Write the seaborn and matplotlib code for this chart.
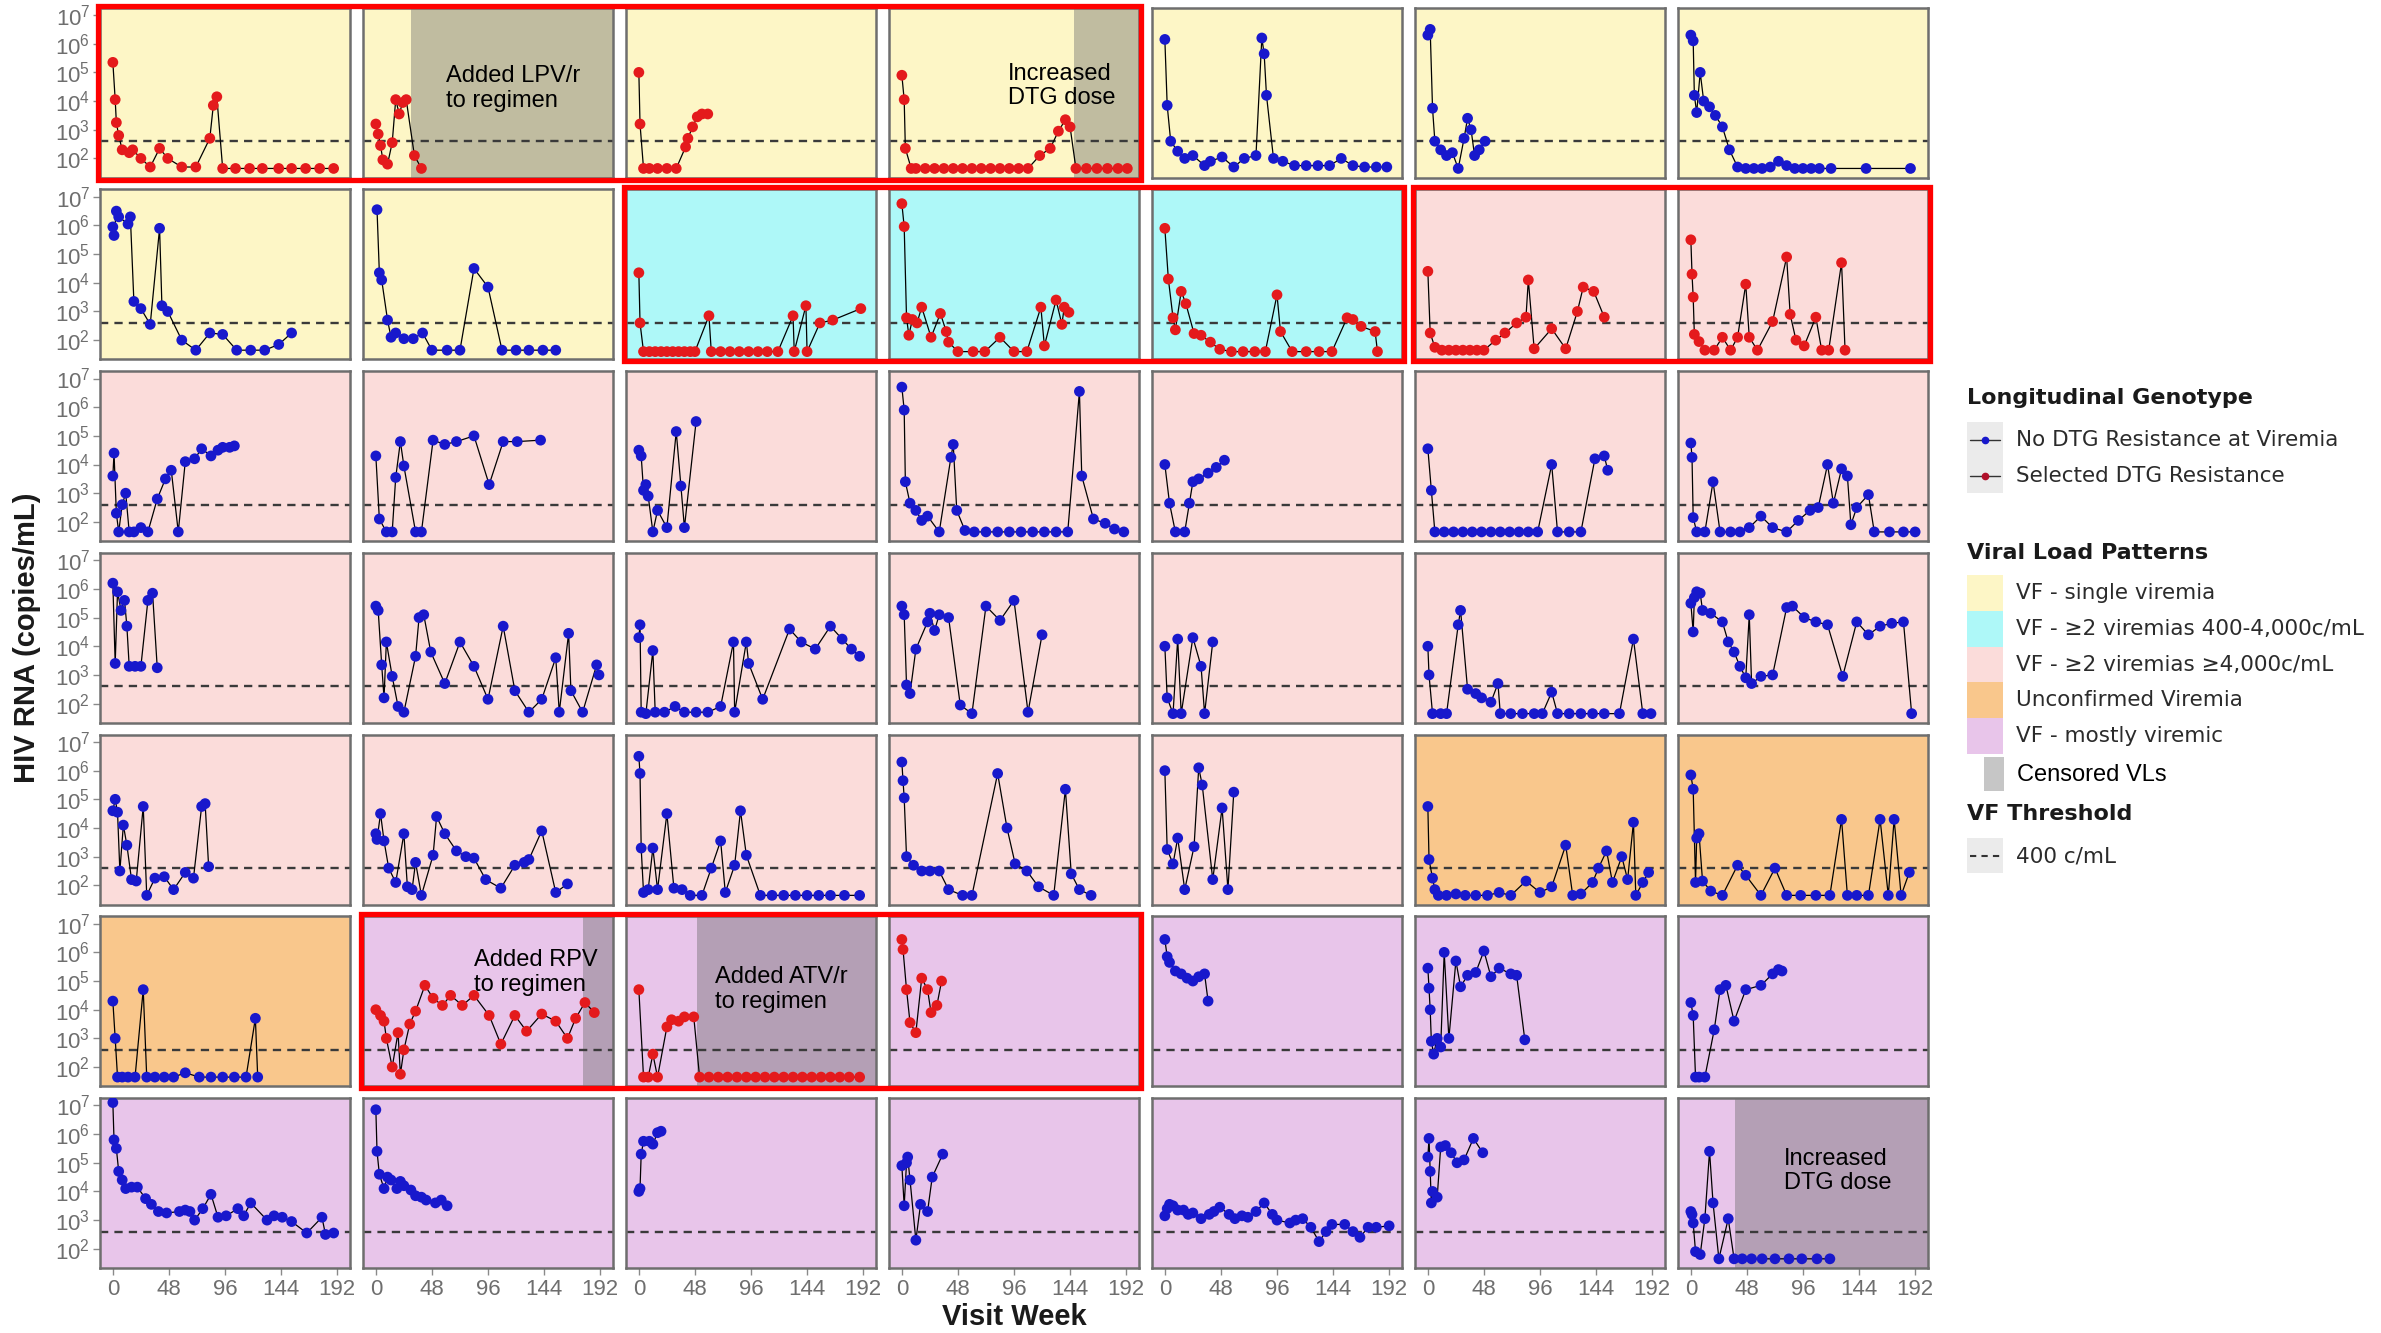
import matplotlib
matplotlib.use("Agg")
import matplotlib.pyplot as plt
import seaborn as sns
import pandas as pd
from matplotlib.patches import Rectangle
from matplotlib.lines import Line2D

# ---------------- data: visit week and log10 HIV RNA (copies/mL) ----------------
r1c1_wk = [0, 2, 3, 5, 8, 14, 17, 24, 32, 40, 47, 59, 71, 83, 86, 89, 94, 105, 117, 128, 142, 153, 165, 177, 189]
r1c1_lg = [5.35, 4.05, 3.25, 2.8, 2.3, 2.2, 2.3, 2.0, 1.7, 2.35, 2.0, 1.7, 1.7, 2.7, 3.85, 4.15, 1.65, 1.65, 1.65, 1.65, 1.65, 1.65, 1.65, 1.65, 1.65]
r1c2_wk = [0, 2, 4, 6, 10, 14, 17, 20, 23, 26, 33, 39]
r1c2_lg = [3.2, 2.85, 2.45, 1.95, 1.8, 2.55, 4.05, 3.55, 3.95, 4.05, 2.1, 1.65]
r1c3_wk = [0, 1, 4, 9, 16, 24, 32, 40, 42, 46, 50, 54, 59]
r1c3_lg = [5.0, 3.2, 1.65, 1.65, 1.65, 1.65, 1.65, 2.4, 2.7, 3.1, 3.45, 3.55, 3.55]
r1c4_wk = [0, 2, 3, 8, 12, 20, 28, 36, 44, 52, 60, 68, 76, 84, 92, 100, 108, 118, 127, 134, 140, 144, 149, 158, 167, 176, 185, 193]
r1c4_lg = [4.9, 4.05, 2.35, 1.65, 1.65, 1.65, 1.65, 1.65, 1.65, 1.65, 1.65, 1.65, 1.65, 1.65, 1.65, 1.65, 1.65, 2.1, 2.35, 2.95, 3.35, 3.1, 1.65, 1.65, 1.65, 1.65, 1.65, 1.65]
r1c5_wk = [0, 2, 5, 11, 17, 24, 34, 39, 49, 59, 68, 78, 83, 85, 87, 93, 101, 111, 121, 131, 141, 151, 161, 171, 181, 190]
r1c5_lg = [6.15, 3.85, 2.6, 2.25, 2.0, 2.1, 1.75, 1.9, 2.05, 1.7, 2.0, 2.1, 6.2, 5.65, 4.2, 2.0, 1.9, 1.75, 1.75, 1.75, 1.75, 2.0, 1.75, 1.7, 1.7, 1.7]
r1c6_wk = [0, 2, 4, 6, 11, 16, 21, 26, 31, 34, 37, 40, 44, 49]
r1c6_lg = [6.3, 6.5, 3.75, 2.6, 2.3, 2.1, 2.2, 1.65, 2.7, 3.4, 3.0, 2.1, 2.3, 2.6]
r1c7_wk = [0, 2, 3, 5, 8, 11, 16, 21, 27, 33, 40, 47, 54, 61, 68, 75, 82, 89, 96, 103, 110, 120, 150, 188]
r1c7_lg = [6.3, 6.1, 4.2, 3.6, 5.0, 4.0, 3.8, 3.5, 3.1, 2.3, 1.7, 1.65, 1.65, 1.65, 1.7, 1.9, 1.75, 1.65, 1.65, 1.65, 1.65, 1.65, 1.65, 1.65]

r2c1_wk = [0, 1, 3, 5, 13, 15, 18, 24, 32, 40, 42, 47, 59, 71, 83, 94, 106, 118, 130, 142, 153]
r2c1_lg = [5.95, 5.65, 6.5, 6.3, 6.05, 6.3, 3.35, 3.1, 2.55, 5.9, 3.2, 3.0, 2.0, 1.65, 2.25, 2.2, 1.65, 1.65, 1.65, 1.85, 2.25]
r2c2_wk = [1, 3, 5, 10, 13, 17, 24, 32, 40, 48, 61, 72, 84, 96, 108, 120, 131, 143, 154]
r2c2_lg = [6.55, 4.35, 4.1, 2.7, 2.1, 2.25, 2.05, 2.05, 2.25, 1.65, 1.65, 1.65, 4.5, 3.85, 1.65, 1.65, 1.65, 1.65, 1.65]
r2c3_wk = [0, 1, 4, 9, 14, 19, 24, 29, 34, 39, 44, 48, 60, 62, 70, 78, 86, 94, 102, 110, 119, 132, 133, 143, 144, 155, 166, 190]
r2c3_lg = [4.35, 2.6, 1.6, 1.6, 1.6, 1.6, 1.6, 1.6, 1.6, 1.6, 1.6, 1.6, 2.85, 1.6, 1.6, 1.6, 1.6, 1.6, 1.6, 1.6, 1.6, 2.85, 1.6, 3.2, 1.6, 2.6, 2.7, 3.1]
r2c4_wk = [0, 2, 4, 6, 9, 13, 17, 25, 33, 38, 40, 48, 61, 71, 84, 96, 107, 119, 122, 132, 137, 139, 143]
r2c4_lg = [6.76, 5.96, 2.78, 2.17, 2.72, 2.6, 3.15, 2.1, 2.93, 2.3, 1.93, 1.6, 1.6, 1.6, 2.1, 1.6, 1.6, 3.15, 1.8, 3.4, 2.55, 3.15, 2.97]
r2c5_wk = [0, 3, 7, 9, 14, 18, 25, 31, 39, 47, 57, 67, 77, 86, 96, 99, 109, 121, 132, 143, 156, 161, 168, 180, 182]
r2c5_lg = [5.9, 4.13, 2.78, 2.36, 3.7, 3.27, 2.23, 2.17, 1.93, 1.68, 1.6, 1.6, 1.6, 1.6, 3.58, 2.3, 1.6, 1.6, 1.6, 1.6, 2.78, 2.72, 2.48, 2.3, 1.6]
r2c6_wk = [0, 2, 6, 12, 18, 24, 30, 36, 42, 48, 58, 66, 76, 84, 86, 91, 106, 118, 128, 133, 142, 151]
r2c6_lg = [4.4, 2.25, 1.75, 1.65, 1.65, 1.65, 1.65, 1.65, 1.65, 1.65, 2.0, 2.25, 2.6, 2.8, 4.1, 1.7, 2.4, 1.7, 3.0, 3.85, 3.7, 2.8]
r2c7_wk = [0, 1, 2, 3, 7, 12, 20, 27, 34, 40, 47, 50, 57, 70, 82, 85, 90, 97, 107, 112, 118, 129, 132]
r2c7_lg = [5.5, 4.3, 3.5, 2.2, 1.95, 1.65, 1.65, 2.1, 1.65, 2.1, 3.95, 2.1, 1.65, 2.65, 4.9, 2.9, 2.0, 1.8, 2.8, 1.65, 1.65, 4.7, 1.65]

r3c1_wk = [0, 1, 3, 5, 8, 11, 14, 18, 24, 30, 38, 45, 50, 56, 62, 70, 76, 84, 90, 94, 100, 104]
r3c1_lg = [3.6, 4.4, 2.3, 1.65, 2.6, 3.0, 1.65, 1.65, 1.8, 1.65, 2.8, 3.5, 3.8, 1.65, 4.1, 4.2, 4.55, 4.3, 4.5, 4.6, 4.6, 4.65]
r3c2_wk = [0, 3, 9, 14, 17, 21, 24, 34, 39, 49, 59, 69, 84, 97, 109, 121, 141]
r3c2_lg = [4.3, 2.1, 1.65, 1.65, 3.55, 4.8, 3.95, 1.65, 1.65, 4.85, 4.7, 4.8, 5.0, 3.3, 4.8, 4.8, 4.85]
r3c3_wk = [0, 2, 4, 6, 8, 12, 16, 24, 32, 36, 39, 49]
r3c3_lg = [4.5, 4.3, 3.1, 3.3, 2.9, 1.65, 2.4, 1.8, 5.15, 3.25, 1.8, 5.5]
r3c4_wk = [0, 2, 3, 7, 12, 17, 22, 32, 42, 44, 47, 54, 62, 72, 82, 92, 102, 112, 122, 132, 142, 152, 154, 164, 174, 182, 190]
r3c4_lg = [6.7, 5.9, 3.4, 2.65, 2.4, 2.05, 2.2, 1.65, 4.25, 4.7, 2.4, 1.7, 1.65, 1.65, 1.65, 1.65, 1.65, 1.65, 1.65, 1.65, 1.65, 6.55, 3.6, 2.1, 1.95, 1.75, 1.65]
r3c5_wk = [0, 4, 9, 17, 21, 24, 29, 37, 44, 51]
r3c5_lg = [4.0, 2.65, 1.65, 1.65, 2.65, 3.4, 3.5, 3.7, 3.9, 4.15]
r3c6_wk = [0, 3, 6, 14, 22, 30, 38, 46, 54, 62, 70, 78, 86, 94, 106, 111, 121, 131, 143, 151, 154]
r3c6_lg = [4.55, 3.1, 1.65, 1.65, 1.65, 1.65, 1.65, 1.65, 1.65, 1.65, 1.65, 1.65, 1.65, 1.65, 4.0, 1.65, 1.65, 1.65, 4.2, 4.3, 3.8]
r3c7_wk = [0, 1, 2, 5, 12, 19, 25, 34, 42, 50, 60, 70, 82, 92, 102, 109, 117, 122, 129, 134, 137, 142, 152, 157, 170, 182, 192]
r3c7_lg = [4.75, 4.25, 2.15, 1.65, 1.65, 3.4, 1.65, 1.65, 1.65, 1.8, 2.2, 1.8, 1.65, 2.05, 2.4, 2.5, 4.0, 2.65, 3.85, 3.6, 1.9, 2.5, 2.95, 1.65, 1.65, 1.65, 1.65]

r4c1_wk = [0, 2, 4, 7, 10, 12, 14, 19, 24, 30, 34, 38]
r4c1_lg = [6.2, 3.4, 5.9, 5.25, 5.6, 4.7, 3.3, 3.3, 3.3, 5.6, 5.85, 3.25]
r4c2_wk = [0, 2, 5, 7, 9, 14, 19, 24, 34, 37, 41, 47, 59, 72, 84, 96, 109, 119, 131, 142, 154, 157, 165, 167, 177, 189, 191]
r4c2_lg = [5.4, 5.25, 3.35, 2.2, 4.15, 2.95, 1.9, 1.7, 3.65, 5.0, 5.1, 3.8, 2.7, 4.15, 3.3, 2.15, 4.7, 2.45, 1.7, 2.15, 3.6, 1.7, 4.45, 2.45, 1.7, 3.35, 3.0]
r4c3_wk = [0, 1, 2, 6, 12, 14, 22, 31, 39, 49, 59, 70, 81, 82, 92, 94, 106, 129, 139, 151, 164, 174, 182, 189]
r4c3_lg = [4.3, 4.75, 1.7, 1.65, 3.85, 1.7, 1.7, 1.9, 1.7, 1.7, 1.7, 1.9, 4.15, 1.7, 4.15, 3.4, 2.15, 4.6, 4.15, 3.9, 4.7, 4.25, 3.9, 3.65]
r4c4_wk = [0, 2, 4, 7, 12, 22, 24, 28, 32, 40, 50, 60, 72, 84, 96, 108, 120]
r4c4_lg = [5.4, 5.1, 2.65, 2.35, 3.9, 4.85, 5.15, 4.55, 5.1, 5.0, 1.95, 1.65, 5.4, 4.9, 5.6, 1.7, 4.4]
r4c5_wk = [0, 2, 7, 11, 14, 24, 31, 34, 41]
r4c5_lg = [4.0, 2.2, 1.65, 4.25, 1.65, 4.3, 3.3, 1.65, 4.15]
r4c6_wk = [0, 1, 4, 11, 16, 26, 28, 34, 41, 46, 54, 60, 62, 71, 81, 91, 98, 106, 111, 121, 131, 141, 151, 164, 176, 184, 191]
r4c6_lg = [4.0, 3.0, 1.65, 1.65, 1.65, 4.75, 5.25, 2.5, 2.35, 2.2, 2.05, 2.7, 1.65, 1.65, 1.65, 1.65, 1.65, 2.4, 1.65, 1.65, 1.65, 1.65, 1.65, 1.65, 4.25, 1.65, 1.65]
r4c7_wk = [0, 2, 3, 5, 8, 10, 17, 27, 32, 37, 42, 47, 50, 52, 60, 70, 82, 87, 97, 107, 117, 130, 142, 152, 162, 172, 182, 189]
r4c7_lg = [5.5, 4.5, 5.7, 5.9, 5.85, 5.25, 5.15, 4.85, 4.15, 3.8, 3.3, 2.9, 5.1, 2.7, 2.95, 3.0, 5.35, 5.4, 5.0, 4.85, 4.75, 2.95, 4.85, 4.4, 4.7, 4.8, 4.85, 1.65]

r5c1_wk = [0, 2, 4, 6, 9, 12, 16, 20, 26, 29, 36, 44, 52, 62, 69, 76, 79, 82]
r5c1_lg = [4.6, 5.0, 4.55, 2.5, 4.1, 3.4, 2.2, 2.15, 4.75, 1.65, 2.25, 2.3, 1.85, 2.45, 2.25, 4.75, 4.85, 2.65]
r5c2_wk = [0, 1, 4, 7, 11, 17, 24, 27, 31, 34, 39, 49, 52, 59, 69, 77, 84, 94, 107, 119, 127, 131, 142, 154, 164]
r5c2_lg = [3.8, 3.6, 4.5, 3.55, 2.6, 2.1, 3.8, 1.95, 1.85, 2.8, 1.65, 3.05, 4.4, 3.8, 3.2, 3.0, 2.95, 2.2, 1.9, 2.7, 2.8, 2.9, 3.9, 1.75, 2.05]
r5c3_wk = [0, 1, 2, 4, 8, 12, 16, 24, 30, 37, 44, 54, 62, 70, 74, 82, 87, 92, 104, 114, 124, 134, 144, 154, 164, 176, 189]
r5c3_lg = [6.5, 5.9, 3.3, 1.75, 1.85, 3.3, 1.85, 4.5, 1.9, 1.85, 1.65, 1.65, 2.6, 3.55, 1.75, 2.7, 4.6, 3.05, 1.65, 1.65, 1.65, 1.65, 1.65, 1.65, 1.65, 1.65, 1.65]
r5c4_wk = [0, 1, 2, 4, 10, 17, 24, 32, 40, 52, 60, 82, 90, 97, 107, 117, 130, 140, 145, 152, 162]
r5c4_lg = [6.3, 5.65, 5.05, 3.0, 2.7, 2.5, 2.5, 2.5, 1.85, 1.65, 1.65, 5.9, 4.0, 2.75, 2.5, 1.95, 1.65, 5.35, 2.4, 1.85, 1.65]
r5c5_wk = [0, 2, 7, 11, 17, 25, 29, 32, 41, 49, 54, 59]
r5c5_lg = [6.0, 3.25, 2.75, 3.65, 1.85, 3.35, 6.1, 5.5, 2.2, 4.7, 1.85, 5.25]
r5c6_wk = [0, 1, 4, 6, 9, 16, 24, 32, 41, 51, 61, 71, 84, 96, 106, 118, 124, 131, 141, 146, 153, 158, 166, 171, 176, 178, 184, 189]
r5c6_lg = [4.75, 2.9, 2.25, 1.85, 1.65, 1.65, 1.7, 1.65, 1.65, 1.65, 1.75, 1.65, 2.15, 1.75, 1.95, 3.4, 1.65, 1.7, 2.1, 2.6, 3.2, 2.1, 3.0, 2.2, 4.2, 1.65, 2.1, 2.45]
r5c7_wk = [0, 2, 4, 5, 7, 10, 17, 27, 40, 47, 60, 72, 82, 94, 107, 119, 129, 134, 142, 152, 162, 169, 174, 180, 187]
r5c7_lg = [5.85, 5.35, 2.1, 3.65, 3.8, 2.15, 1.8, 1.65, 2.7, 2.35, 1.65, 2.6, 1.65, 1.65, 1.65, 1.65, 4.3, 1.65, 1.65, 1.65, 4.3, 1.65, 4.3, 1.65, 2.45]

r6c1_wk = [0, 2, 4, 8, 13, 19, 26, 29, 36, 44, 52, 62, 74, 84, 94, 104, 114, 122, 124]
r6c1_lg = [4.3, 3.0, 1.65, 1.65, 1.65, 1.65, 4.7, 1.65, 1.65, 1.65, 1.65, 1.8, 1.65, 1.65, 1.65, 1.65, 1.65, 3.7, 1.65]
r6c2_wk = [0, 4, 7, 9, 14, 19, 21, 24, 29, 34, 42, 49, 57, 64, 74, 84, 97, 107, 119, 129, 142, 154, 164, 171, 179, 187]
r6c2_lg = [4.0, 3.8, 3.6, 3.0, 2.0, 3.2, 1.75, 2.6, 3.5, 3.95, 4.85, 4.4, 4.15, 4.5, 4.15, 4.5, 3.8, 2.8, 3.8, 3.25, 3.85, 3.6, 3.0, 3.7, 4.25, 3.9]
r6c3_wk = [0, 4, 8, 12, 16, 24, 28, 34, 39, 47, 52, 60, 68, 76, 84, 92, 100, 108, 116, 124, 132, 140, 148, 156, 164, 172, 180, 189]
r6c3_lg = [4.7, 1.65, 1.65, 2.45, 1.65, 3.4, 3.65, 3.6, 3.75, 3.75, 1.65, 1.65, 1.65, 1.65, 1.65, 1.65, 1.65, 1.65, 1.65, 1.65, 1.65, 1.65, 1.65, 1.65, 1.65, 1.65, 1.65, 1.65]
r6c4_wk = [0, 1, 4, 7, 12, 17, 22, 25, 30, 34]
r6c4_lg = [6.45, 6.1, 4.7, 3.55, 3.2, 5.1, 4.7, 3.9, 4.15, 5.0]
r6c5_wk = [0, 2, 4, 9, 14, 19, 24, 29, 34, 37]
r6c5_lg = [6.45, 5.85, 5.65, 5.35, 5.25, 5.1, 5.0, 5.15, 5.25, 4.3]
r6c6_wk = [0, 1, 2, 3, 5, 8, 11, 14, 18, 24, 28, 34, 41, 48, 54, 61, 71, 76, 83]
r6c6_lg = [5.45, 4.75, 4.0, 2.9, 2.45, 3.0, 2.7, 6.0, 3.0, 5.7, 4.8, 5.2, 5.3, 6.05, 5.15, 5.45, 5.25, 5.2, 2.95]
r6c7_wk = [0, 2, 4, 7, 12, 20, 25, 30, 37, 47, 60, 70, 75, 78]
r6c7_lg = [4.25, 3.8, 1.65, 1.65, 1.65, 3.3, 4.7, 4.85, 3.6, 4.7, 4.85, 5.25, 5.4, 5.35]

r7c1_wk = [0, 1, 3, 5, 8, 11, 16, 21, 28, 33, 39, 46, 57, 62, 66, 70, 77, 84, 90, 97, 107, 112, 118, 132, 138, 145, 153, 166, 179, 182, 189]
r7c1_lg = [7.1, 5.8, 5.5, 4.7, 4.4, 4.1, 4.15, 4.15, 3.75, 3.55, 3.3, 3.25, 3.3, 3.35, 3.3, 3.0, 3.4, 3.9, 3.1, 3.15, 3.4, 3.15, 3.6, 3.0, 3.15, 3.1, 2.95, 2.55, 3.1, 2.5, 2.55]
r7c2_wk = [0, 1, 3, 7, 10, 13, 18, 21, 24, 30, 34, 39, 43, 51, 56, 61]
r7c2_lg = [6.85, 5.4, 4.6, 4.1, 4.5, 4.4, 4.1, 4.35, 4.2, 4.05, 3.85, 3.8, 3.7, 3.6, 3.7, 3.5]
r7c3_wk = [0, 1, 2, 4, 9, 12, 16, 19]
r7c3_lg = [4.0, 4.1, 5.3, 5.75, 5.75, 5.65, 6.05, 6.1]
r7c4_wk = [0, 2, 4, 5, 7, 12, 16, 22, 26, 35]
r7c4_lg = [4.9, 3.5, 5.0, 5.2, 4.4, 2.3, 3.55, 3.3, 4.5, 5.3]
r7c5_wk = [0, 2, 4, 7, 11, 16, 20, 24, 31, 38, 42, 47, 55, 60, 66, 71, 78, 85, 92, 96, 107, 112, 118, 125, 132, 138, 143, 154, 161, 167, 174, 181, 192]
r7c5_lg = [3.15, 3.4, 3.55, 3.5, 3.35, 3.35, 3.2, 3.25, 3.05, 3.2, 3.3, 3.45, 3.2, 3.05, 3.15, 3.1, 3.3, 3.6, 3.2, 3.0, 2.9, 3.0, 3.05, 2.75, 2.25, 2.6, 2.85, 2.85, 2.6, 2.4, 2.75, 2.75, 2.8]
r7c6_wk = [0, 1, 2, 3, 4, 8, 11, 15, 20, 25, 31, 39, 47]
r7c6_lg = [5.2, 5.85, 4.7, 3.6, 4.0, 3.8, 5.55, 5.6, 5.35, 5.0, 5.1, 5.85, 5.35]
r7c7_wk = [0, 1, 2, 4, 8, 12, 16, 19, 24, 32, 37, 44, 52, 61, 72, 84, 95, 108, 119]
r7c7_lg = [3.3, 3.2, 2.9, 1.9, 1.8, 3.05, 5.4, 3.6, 1.65, 3.05, 1.65, 1.65, 1.65, 1.65, 1.65, 1.65, 1.65, 1.65, 1.65]

WK = [[r1c1_wk, r1c2_wk, r1c3_wk, r1c4_wk, r1c5_wk, r1c6_wk, r1c7_wk],
      [r2c1_wk, r2c2_wk, r2c3_wk, r2c4_wk, r2c5_wk, r2c6_wk, r2c7_wk],
      [r3c1_wk, r3c2_wk, r3c3_wk, r3c4_wk, r3c5_wk, r3c6_wk, r3c7_wk],
      [r4c1_wk, r4c2_wk, r4c3_wk, r4c4_wk, r4c5_wk, r4c6_wk, r4c7_wk],
      [r5c1_wk, r5c2_wk, r5c3_wk, r5c4_wk, r5c5_wk, r5c6_wk, r5c7_wk],
      [r6c1_wk, r6c2_wk, r6c3_wk, r6c4_wk, r6c5_wk, r6c6_wk, r6c7_wk],
      [r7c1_wk, r7c2_wk, r7c3_wk, r7c4_wk, r7c5_wk, r7c6_wk, r7c7_wk]]
LG = [[r1c1_lg, r1c2_lg, r1c3_lg, r1c4_lg, r1c5_lg, r1c6_lg, r1c7_lg],
      [r2c1_lg, r2c2_lg, r2c3_lg, r2c4_lg, r2c5_lg, r2c6_lg, r2c7_lg],
      [r3c1_lg, r3c2_lg, r3c3_lg, r3c4_lg, r3c5_lg, r3c6_lg, r3c7_lg],
      [r4c1_lg, r4c2_lg, r4c3_lg, r4c4_lg, r4c5_lg, r4c6_lg, r4c7_lg],
      [r5c1_lg, r5c2_lg, r5c3_lg, r5c4_lg, r5c5_lg, r5c6_lg, r5c7_lg],
      [r6c1_lg, r6c2_lg, r6c3_lg, r6c4_lg, r6c5_lg, r6c6_lg, r6c7_lg],
      [r7c1_lg, r7c2_lg, r7c3_lg, r7c4_lg, r7c5_lg, r7c6_lg, r7c7_lg]]

# viral load pattern of each panel (Y single, C 400-4000, P >=4000, O unconfirmed, M mostly viremic)
pattern_rows = ["YYYYYYY", "YYCCCPP", "PPPPPPP", "PPPPPPP", "PPPPPOO", "OMMMMMM", "MMMMMMM"]
# panels with selected DTG resistance (1 = red)
resist_rows = ["1111000", "0011111", "0000000", "0000000", "0000000", "0111000", "0000000"]

pattern_names = ["VF - single viremia", "VF - \u22652 viremias 400-4,000c/mL",
                 "VF - \u22652 viremias \u22654,000c/mL", "Unconfirmed Viremia", "VF - mostly viremic"]
pattern_keys = ["Y", "C", "P", "O", "M"]
pattern_colors = ["#FDF6C6", "#AEF8F8", "#FBDCDA", "#F9C78C", "#E8C5EA"]

censor_panels = [(0, 1), (0, 3), (5, 1), (5, 2), (6, 6)]
censor_start = [30, 147, 177, 50, 38]
annot_panels = [(0, 1), (0, 3), (5, 1), (5, 2), (6, 6)]
annot_text = ["Added LPV/r\nto regimen", "Increased\nDTG dose", "Added RPV\nto regimen",
              "Added ATV/r\nto regimen", "Increased\nDTG dose"]
annot_x = [0.60, 0.69, 0.69, 0.62, 0.64]
annot_y = [0.525, 0.54, 0.67, 0.57, 0.57]

box_row = [0, 1, 1, 5]
box_c0 = [0, 2, 5, 1]
box_c1 = [3, 4, 6, 3]

x_ticks = [0, 48, 96, 144, 192]
y_ticks = [2, 3, 4, 5, 6, 7]
threshold_log = 2.602  # 400 c/mL

# ---------------- styling ----------------
sns.set_theme(style="white")
plt.rcParams['font.family'] = ['Liberation Sans', 'DejaVu Sans']
plt.rcParams['mathtext.fontset'] = 'custom'
plt.rcParams['mathtext.rm'] = 'Liberation Sans'
plt.rcParams['mathtext.it'] = 'Liberation Sans:italic'
plt.rcParams['mathtext.bf'] = 'Liberation Sans:bold'

BLUE = "#1818CC"
RED = "#E41A1C"
W, H = 2381, 1333

fig = plt.figure(figsize=(W / 100, H / 100), dpi=100)
fig.patch.set_facecolor("white")
gs = fig.add_gridspec(7, 7, left=100 / W, right=1928 / W, top=1 - 7.6 / H, bottom=1 - 1268 / H,
                      wspace=13 / 250, hspace=11.7 / 170)

axes = [[None] * 7 for _ in range(7)]
for i in range(7):
    for j in range(7):
        ax = fig.add_subplot(gs[i, j])
        axes[i][j] = ax
        key = pattern_rows[i][j]
        ax.set_facecolor(pattern_colors[pattern_keys.index(key)])
        df = pd.DataFrame({"week": WK[i][j], "lg": LG[i][j]})
        col = RED if resist_rows[i][j] == "1" else BLUE
        sns.lineplot(data=df, x="week", y="lg", ax=ax, color="black", linewidth=0.9,
                     estimator=None, sort=False, zorder=3)
        sns.scatterplot(data=df, x="week", y="lg", ax=ax, color=col, s=60,
                        edgecolor="none", linewidth=0, zorder=4)
        ax.axhline(threshold_log, color="#3A3A3A", lw=1.7, dashes=(3.5, 2.6), zorder=2)
        ax.set_xlim(-11, 203)
        ax.set_ylim(1.33, 7.26)
        ax.set_xlabel("")
        ax.set_ylabel("")
        ax.set_xticks(x_ticks)
        ax.set_yticks(y_ticks)
        for s in ax.spines.values():
            s.set_color("#6E6E6E")
            s.set_linewidth(1.8)
        if j == 0:
            ax.set_yticklabels([r"$10^{%d}$" % k for k in y_ticks])
            ax.tick_params(axis="y", length=5, width=1.0, color="#8A8A8A",
                           labelcolor="#6E6E6E", labelsize=16, pad=2, left=True)
        else:
            ax.set_yticklabels([])
            ax.tick_params(axis="y", length=0, left=False)
        if i == 6:
            ax.set_xticklabels([str(t) for t in x_ticks])
            ax.tick_params(axis="x", length=5, width=1.0, color="#8A8A8A",
                           labelcolor="#6E6E6E", labelsize=16, pad=3, bottom=True)
        else:
            ax.set_xticklabels([])
            ax.tick_params(axis="x", length=0, bottom=False)
        ax.grid(False)

# censored regions
for (i, j), st in zip(censor_panels, censor_start):
    axes[i][j].axvspan(st, 203, color="#6C6C6C", alpha=0.42, lw=0, zorder=1)

# annotations
for (i, j), t, xf, yf in zip(annot_panels, annot_text, annot_x, annot_y):
    axes[i][j].text(xf, yf, t, transform=axes[i][j].transAxes, ha="center", va="center",
                    fontsize=17, linespacing=1.15, color="black", family="Liberation Sans",
                    multialignment="left", zorder=6)

# red highlight boxes
e = 2.0 / W
ev = 2.0 / H
for r, c0, c1 in zip(box_row, box_c0, box_c1):
    p0 = axes[r][c0].get_position()
    p1 = axes[r][c1].get_position()
    rect = Rectangle((p0.x0 - e, p0.y0 - ev), (p1.x1 - p0.x0) + 2 * e, (p0.y1 - p0.y0) + 2 * ev,
                     transform=fig.transFigure, fill=False, edgecolor="#FF0000", lw=3.8, zorder=20)
    fig.add_artist(rect)

# axis titles
fig.text(27 / W, 1 - 638 / H, "HIV RNA (copies/mL)", rotation=90, ha="center", va="center",
         fontsize=21, fontweight="bold", color="#1A1A1A")
fig.text(1014 / W, 1 - 1317 / H, "Visit Week", ha="center", va="center",
         fontsize=21, fontweight="bold", color="#1A1A1A")


# ---------------- legend (drawn manually in figure pixels) ----------------
def fx(x):
    return x / W


def fy(y):
    return 1 - y / H


def frect(x0, y0, x1, y1, color):
    fig.add_artist(Rectangle((fx(x0), fy(y1)), fx(x1) - fx(x0), fy(y0) - fy(y1),
                             transform=fig.transFigure, facecolor=color, edgecolor="none", lw=0))


LEG_TXT = dict(fontsize=15.5, color="#2B2B2B", family="DejaVu Sans", va="center", ha="left")
LEG_TTL = dict(fontsize=16, color="#1A1A1A", family="DejaVu Sans", fontweight="bold", va="center", ha="left")

fig.text(fx(1967), fy(398), "Longitudinal Genotype", **LEG_TTL)
frect(1967, 422, 2003, 493, "#EBEBEB")
geno_labels = ["No DTG Resistance at Viremia", "Selected DTG Resistance"]
geno_cols = [BLUE, "#B0102A"]
for k, (lab, cc) in enumerate(zip(geno_labels, geno_cols)):
    yy = 440 + 36 * k
    fig.add_artist(Line2D([fx(1970), fx(2000)], [fy(yy), fy(yy)], transform=fig.transFigure,
                          color="#333333", lw=1.0))
    fig.add_artist(Line2D([fx(1985)], [fy(yy)], transform=fig.transFigure, marker="o",
                          markersize=4.5, color=cc, lw=0))
    fig.text(fx(2016), fy(yy), lab, **LEG_TXT)

fig.text(fx(1967), fy(553), "Viral Load Patterns", **LEG_TTL)
for k, (lab, cc) in enumerate(zip(pattern_names, pattern_colors)):
    yc = 593 + 35.8 * k
    frect(1967, yc - 18, 2003, yc + 18, cc)
    fig.text(fx(2016), fy(yc), lab, **LEG_TXT)

frect(1984, 757, 2004, 791, "#C6C6C6")
fig.text(fx(2017), fy(775), "Censored VLs", fontsize=17, color="black", family="Liberation Sans",
         va="center", ha="left")

fig.text(fx(1967), fy(814), "VF Threshold", **LEG_TTL)
frect(1967, 838, 2003, 873, "#EBEBEB")
fig.add_artist(Line2D([fx(1970), fx(2000)], [fy(856), fy(856)], transform=fig.transFigure,
                      color="#333333", lw=1.5, dashes=(3, 2.5)))
fig.text(fx(2016), fy(856), "400 c/mL", **LEG_TXT)

fig.savefig("out.png", dpi=100, facecolor="white")
